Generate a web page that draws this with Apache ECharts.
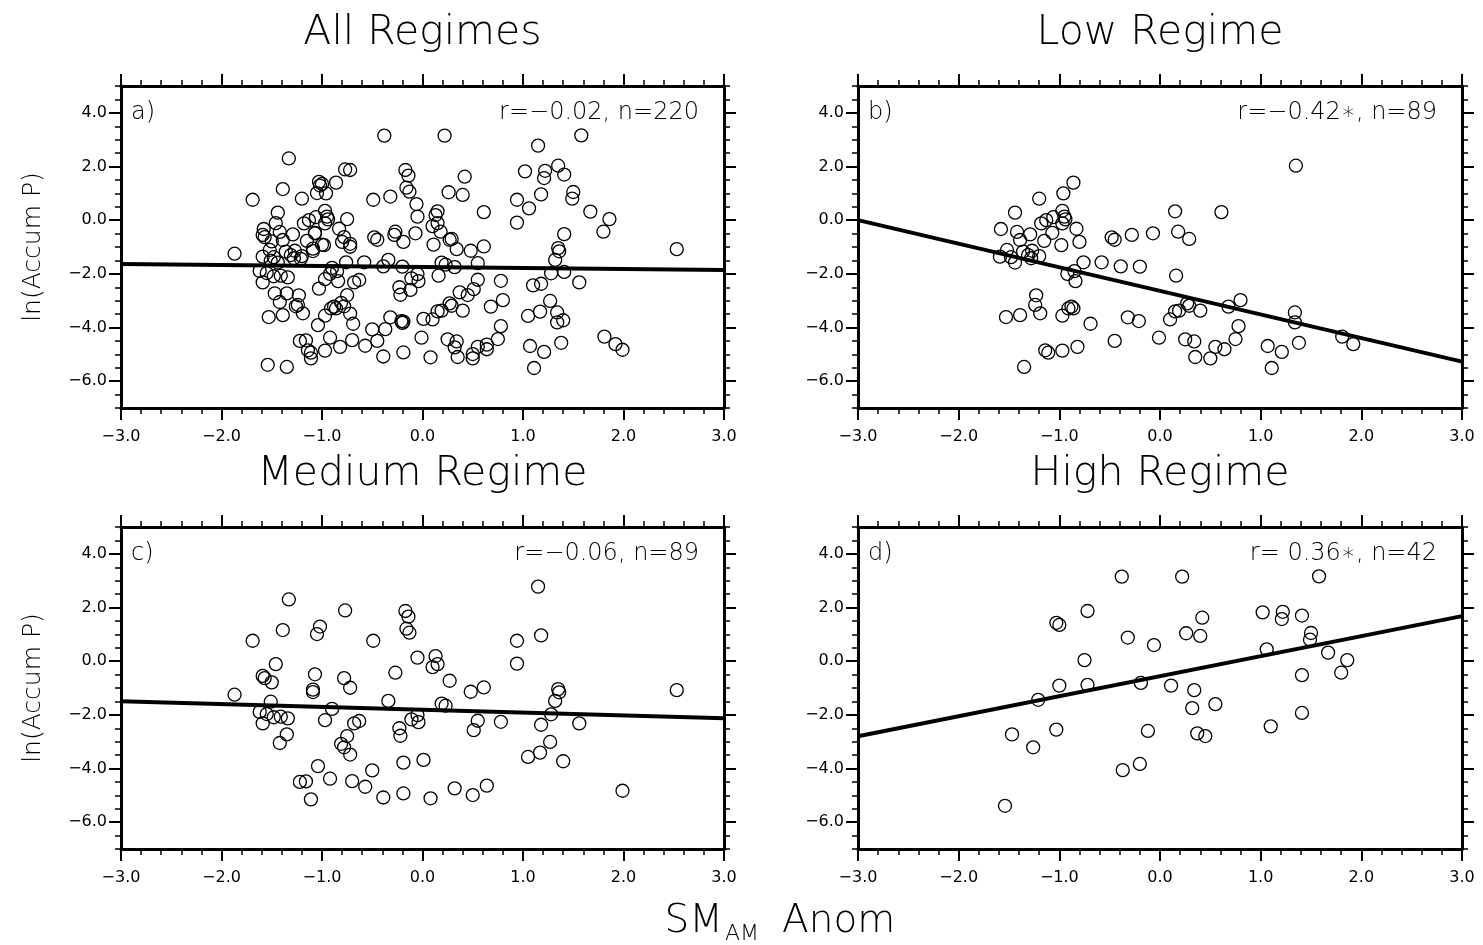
<!DOCTYPE html>
<html><head><meta charset="utf-8">
<script src="https://cdn.jsdelivr.net/npm/echarts@6/dist/echarts.min.js"></script>
<style>html,body{margin:0;padding:0;background:#fff}#c{width:1483px;height:945px}</style>
</head><body><div id="c"></div>
<script>
// ---- data ----
const lowRegime = [[1.35,2.03],[-0.86,1.40],[-0.96,1.00],[-1.20,0.80],[-1.44,0.28],[-0.97,0.35],[-0.95,0.13],[-0.94,0.03],[-0.97,-0.12],[-1.06,0.11],[-1.13,0.00],[-1.18,-0.12],[0.15,0.33],[0.61,0.30],[-1.58,-0.33],[-1.42,-0.44],[-1.29,-0.53],[-1.39,-0.74],[-1.07,-0.47],[-1.15,-0.77],[-0.98,-0.93],[-0.83,-0.32],[-0.80,-0.81],[-0.48,-0.64],[-0.45,-0.73],[-0.28,-0.55],[-0.07,-0.49],[0.18,-0.43],[0.29,-0.70],[-1.52,-1.11],[-1.59,-1.36],[-1.48,-1.38],[-1.44,-1.58],[-1.36,-1.17],[-1.27,-1.14],[-1.28,-1.42],[-1.20,-1.34],[-1.31,-1.30],[-0.76,-1.57],[-0.58,-1.57],[-0.39,-1.72],[-0.20,-1.73],[-0.92,-2.00],[-0.85,-1.90],[-0.84,-2.27],[0.16,-2.07],[-1.23,-2.80],[-1.24,-3.16],[-1.19,-3.47],[-1.53,-3.61],[-1.39,-3.54],[-0.97,-3.56],[-0.91,-3.29],[-0.88,-3.22],[-0.86,-3.29],[-0.69,-3.86],[-0.32,-3.62],[-0.21,-3.76],[0.10,-3.70],[0.15,-3.40],[0.19,-3.37],[0.27,-3.10],[0.29,-3.19],[0.40,-3.37],[0.68,-3.22],[0.80,-2.98],[1.34,-3.44],[1.34,-3.81],[1.81,-4.34],[1.92,-4.62],[0.78,-3.95],[0.75,-4.43],[1.38,-4.57],[1.07,-4.69],[1.21,-4.91],[1.11,-5.51],[-0.01,-4.38],[0.25,-4.44],[0.34,-4.52],[0.55,-4.72],[0.64,-4.81],[0.35,-5.10],[0.50,-5.15],[-0.45,-4.50],[-0.82,-4.72],[-0.97,-4.86],[-1.14,-4.85],[-1.11,-4.94],[-1.35,-5.47]];

const mediumRegime = [[1.15,2.78],[-1.33,2.30],[-0.77,1.89],[-0.17,1.87],[-0.14,1.66],[-0.16,1.21],[-0.13,1.06],[-1.39,1.16],[-1.02,1.29],[-1.05,1.01],[-1.69,0.76],[-0.49,0.76],[1.18,0.96],[0.94,0.76],[0.94,-0.09],[-0.05,0.13],[0.13,0.19],[0.15,-0.11],[0.10,-0.22],[-1.46,-0.11],[-1.59,-0.55],[-1.57,-0.63],[-1.50,-0.79],[-1.07,-0.49],[-0.78,-0.63],[-0.72,-0.99],[-0.27,-0.43],[0.27,-0.73],[-1.09,-1.06],[-1.09,-1.15],[-1.87,-1.25],[0.48,-1.14],[0.61,-0.98],[1.35,-1.04],[1.36,-1.16],[1.32,-1.48],[-1.51,-1.51],[-0.34,-1.48],[0.19,-1.58],[0.23,-1.66],[-0.90,-1.78],[-1.62,-1.89],[-1.55,-1.97],[-1.48,-2.09],[-1.41,-2.07],[-1.34,-2.13],[-1.59,-2.32],[-0.97,-2.20],[-0.68,-2.32],[-0.63,-2.23],[-0.11,-2.17],[-0.05,-2.01],[-0.04,-2.27],[-0.23,-2.50],[-0.22,-2.78],[0.55,-2.22],[0.51,-2.57],[0.78,-2.26],[1.28,-1.98],[1.18,-2.37],[1.56,-2.32],[-1.35,-2.73],[-1.42,-3.05],[-0.75,-2.79],[-0.81,-3.08],[-0.78,-3.21],[-0.72,-3.48],[1.27,-3.01],[1.17,-3.41],[1.05,-3.57],[1.40,-3.73],[-0.19,-3.78],[0.01,-3.68],[-1.04,-3.91],[-0.50,-4.07],[-0.92,-4.38],[-1.22,-4.50],[-1.16,-4.48],[-0.70,-4.47],[-0.57,-4.68],[-1.11,-5.15],[-0.39,-5.08],[-0.19,-4.93],[0.08,-5.11],[0.32,-4.74],[0.50,-4.99],[0.64,-4.64],[1.99,-4.83],[2.53,-1.08]];

const highRegime = [[-0.38,3.15],[0.22,3.15],[1.58,3.16],[-0.72,1.87],[-1.03,1.43],[-1.00,1.35],[1.02,1.82],[1.22,1.84],[1.21,1.57],[1.41,1.70],[0.42,1.62],[-0.32,0.88],[-0.06,0.60],[0.26,1.04],[0.40,0.94],[1.50,1.05],[1.49,0.80],[1.06,0.44],[1.67,0.32],[1.86,0.04],[1.80,-0.43],[1.41,-0.52],[-0.75,0.04],[-1.00,-0.91],[-0.72,-0.88],[-0.19,-0.81],[0.11,-0.91],[0.34,-1.08],[0.55,-1.60],[0.32,-1.75],[-1.21,-1.44],[1.41,-1.93],[1.10,-2.43],[-1.03,-2.55],[-0.12,-2.60],[0.37,-2.69],[0.45,-2.79],[-1.47,-2.73],[-1.26,-3.21],[-0.20,-3.83],[-0.37,-4.06],[-1.54,-5.39]];

const allRegimes = lowRegime.concat(mediumRegime, highRegime);

// regression line end points at x=-3 and x=3
const fitAll = [[-3, -1.63], [3, -1.86]];
const fitLow = [[-3, 0.0], [3, -5.27]];
const fitMed = [[-3, -1.49], [3, -2.13]];
const fitHigh = [[-3, -2.80], [3, 1.68]];

const panelTitles = ['All Regimes', 'Low Regime', 'Medium Regime', 'High Regime'];
const panelLetters = ['a)', 'b)', 'c)', 'd)'];
const panelStats = ['r=\u22120.02, n=220', 'r=\u22120.42\u2217, n=89', 'r=\u22120.06, n=89', 'r= 0.36\u2217, n=42'];
const xTicks = [-3, -2, -1, 0, 1, 2, 3];
const yTicks = [-6, -4, -2, 0, 2, 4];
const yLabel = 'ln(Accum P)';

// ---- layout ----
const FONT = '"DejaVu Sans", sans-serif';
const LIGHT = '200 ';
const grids = [
  {left: 121, top: 86, width: 603, height: 322},
  {left: 858, top: 86, width: 604, height: 322},
  {left: 121, top: 527, width: 603, height: 322},
  {left: 858, top: 527, width: 604, height: 322}
];
const pointSets = [allRegimes, lowRegime, mediumRegime, highRegime];
const fits = [fitAll, fitLow, fitMed, fitHigh];
const fmt = v => (v < 0 ? '\u2212' : '') + Math.abs(v).toFixed(1);

const xAxes = [], yAxes = [], series = [], graphics = [];
grids.forEach((g, i) => {
  ['bottom', 'top'].forEach(pos => {
    xAxes.push({
      type: 'value', gridIndex: i, position: pos, min: -3, max: 3, interval: 1,
      axisLine: {show: true, onZero: false, lineStyle: {color: '#000', width: 3}},
      axisTick: {show: true, inside: false, length: 12, lineStyle: {color: '#000', width: 2}},
      minorTick: {show: true, splitNumber: 5, length: 6, lineStyle: {color: '#000', width: 1.5}},
      splitLine: {show: false}, minorSplitLine: {show: false},
      axisLabel: {show: pos === 'bottom', margin: 21, fontSize: 16, color: '#000', fontFamily: FONT, formatter: fmt}
    });
  });
  ['left', 'right'].forEach(pos => {
    yAxes.push({
      type: 'value', gridIndex: i, position: pos, min: -7, max: 5, interval: 0.5,
      axisLine: {show: true, onZero: false, lineStyle: {color: '#000', width: 3}},
      axisTick: {show: true, inside: false, length: 12, customValues: yTicks, lineStyle: {color: '#000', width: 2}},
      splitLine: {show: false},
      axisLabel: {show: pos === 'left', customValues: yTicks, margin: 14, fontSize: 16, color: '#000', fontFamily: FONT, formatter: fmt}
    });
    yAxes.push({
      type: 'value', gridIndex: i, position: pos, min: -7, max: 5, interval: 0.5,
      axisLine: {show: false, onZero: false},
      axisTick: {show: true, inside: false, length: 6, lineStyle: {color: '#000', width: 1.5}},
      splitLine: {show: false},
      axisLabel: {show: false}
    });
  });
  series.push({
    type: 'scatter', xAxisIndex: 2 * i, yAxisIndex: 4 * i, data: pointSets[i],
    symbol: 'circle', symbolSize: 13, silent: true, z: 2,
    itemStyle: {color: 'rgba(0,0,0,0)', borderColor: '#000', borderWidth: 1.3, opacity: 1},
    emphasis: {disabled: true}
  });
  series.push({
    type: 'line', xAxisIndex: 2 * i, yAxisIndex: 4 * i, data: fits[i],
    showSymbol: false, symbol: 'none', silent: true, z: 3,
    lineStyle: {color: '#000', width: 4}
  });
  graphics.push({type: 'text', x: g.left + g.width / 2, y: g.top - 53,
    style: {text: panelTitles[i], font: LIGHT + '41px ' + FONT, fill: '#000', align: 'center', verticalAlign: 'middle'}});
  graphics.push({type: 'text', x: g.left + 10, y: g.top + 27,
    style: {text: panelLetters[i], font: LIGHT + '24px ' + FONT, fill: '#000', align: 'left', verticalAlign: 'middle'}});
  graphics.push({type: 'text', x: g.left + g.width - 25, y: g.top + 27,
    style: {text: panelStats[i], font: LIGHT + '24px ' + FONT, fill: '#000', align: 'right', verticalAlign: 'middle'}});
  if (i % 2 === 0) {
    graphics.push({type: 'text', x: 33, y: g.top + g.height / 2, rotation: Math.PI / 2,
      style: {text: yLabel, font: LIGHT + '25px ' + FONT, fill: '#000', align: 'center', verticalAlign: 'middle'}});
  }
});
// x axis label: SM with subscript AM, then Anom
graphics.push({type: 'text', x: 723, y: 922, style: {text: 'SM', font: LIGHT + '39px ' + FONT, fill: '#000', align: 'right', verticalAlign: 'middle'}});
graphics.push({type: 'text', x: 725, y: 934, style: {text: 'AM', font: LIGHT + '22px ' + FONT, fill: '#000', align: 'left', verticalAlign: 'middle'}});
graphics.push({type: 'text', x: 782, y: 922, style: {text: 'Anom', font: LIGHT + '39px ' + FONT, fill: '#000', align: 'left', verticalAlign: 'middle'}});

const chart = echarts.init(document.getElementById('c'), null, {renderer: 'canvas'});
chart.setOption({
  animation: false,
  backgroundColor: '#fff',
  grid: grids.map(g => Object.assign({containLabel: false}, g)),
  xAxis: xAxes, yAxis: yAxes, series: series, graphic: graphics
});
</script></body></html>
